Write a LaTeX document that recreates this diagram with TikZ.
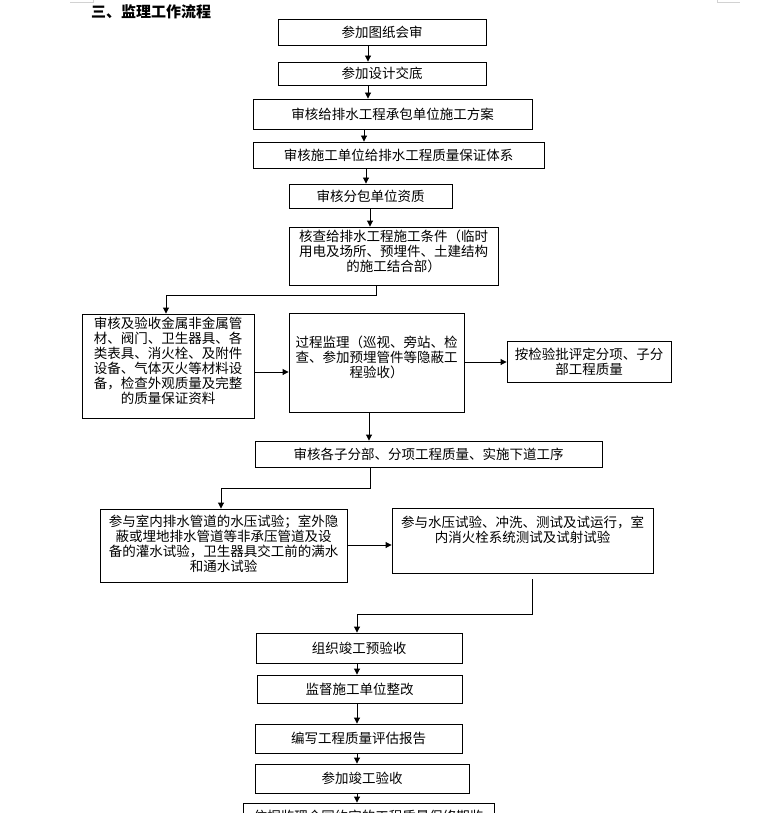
\documentclass[tikz,border=0pt]{standalone}
\usepackage{fontspec}
\setmainfont{Noto Sans CJK SC}
\usetikzlibrary{arrows.meta,calc}
\tikzset{
  box/.style={draw, line width=0.9pt, inner sep=2pt, align=center, font=\fontsize{13.5}{15}\selectfont},
  txt/.style={inner sep=0pt, align=center, font=\fontsize{13.5}{15}\selectfont},
  arr/.style={line width=0.9pt, -{Triangle[length=6pt,width=6pt]}},
  ln/.style={line width=0.9pt},
  cornermark/.style={draw=gray!35, line width=0.8pt}
}
\begin{document}
\begin{tikzpicture}[x=1pt,y=-1pt]
\useasboundingbox (0,0) rectangle (760,813);
\clip (0,0) rectangle (760,813);
% corner marks
\draw[cornermark] (70,2) -- (93,2) -- (93,0);
\draw[cornermark] (717,0) -- (717,2) -- (740,2);
% title
\node[anchor=west, inner sep=0pt, font=\fontsize{15}{17}\selectfont\bfseries] (title) at (91,12) {三、监理工作流程};
% boxes
\node[box, minimum width=208pt, minimum height=26pt] (B1) at (382,32) {参加图纸会审};
\node[box, minimum width=208pt, minimum height=23pt] (B2) at (382,73.5) {参加设计交底};
\node[box, minimum width=279pt, minimum height=30pt] (B3) at (392.5,114) {审核给排水工程承包单位施工方案};
\node[box, minimum width=291pt, minimum height=26pt] (B4) at (398.5,155) {审核施工单位给排水工程质量保证体系};
\node[box, minimum width=163pt, minimum height=24pt] (B5) at (370.5,196) {审核分包单位资质};
\node[box, minimum width=209pt, minimum height=58pt] (B6) at (393.5,256) {};
\node[txt] (T6) at (393.5,251) {核查给排水工程施工条件（临时\\用电及场所、预埋件、土建结构\\的施工结合部）};
\node[box, minimum width=172pt, minimum height=104pt] (B7) at (168,366) {};
\node[txt] (T7) at (168,360.5) {审核及验收金属非金属管\\材、阀门、卫生器具、各\\类表具、消火栓、及附件\\设备、气体灭火等材料设\\备，检查外观质量及完整\\的质量保证资料};
\node[box, minimum width=175pt, minimum height=99pt] (B8) at (376.5,362.5) {};
\node[txt] (T8) at (376.5,357.5) {过程监理（巡视、旁站、检\\查、参加预埋管件等隐蔽工\\程验收）};
\node[box, minimum width=164pt, minimum height=41pt] (B9) at (589,361.5) {按检验批评定分项、子分\\部工程质量};
\node[box, minimum width=347pt, minimum height=26pt] (B10) at (428.5,454) {审核各子分部、分项工程质量、实施下道工序};
\node[box, minimum width=247pt, minimum height=73pt] (B11) at (223.5,545.5) {};
\node[txt] (T11) at (223.5,543.5) {参与室内排水管道的水压试验；室外隐\\蔽或埋地排水管道等非承压管道及设\\备的灌水试验，卫生器具交工前的满水\\和通水试验};
\node[box, minimum width=261pt, minimum height=65pt] (B12) at (522.5,540.5) {};
\node[txt] (T12) at (522.5,529.5) {参与水压试验、冲洗、测试及试运行，室\\内消火栓系统测试及试射试验};
\node[box, minimum width=206pt, minimum height=30pt] (B13) at (359,648) {组织竣工预验收};
\node[box, minimum width=205pt, minimum height=28pt] (B14) at (359.5,689) {监督施工单位整改};
\node[box, minimum width=207pt, minimum height=29pt] (B15) at (358.5,738.5) {编写工程质量评估报告};
\node[box, minimum width=214pt, minimum height=29pt] (B16) at (362,778.5) {参加竣工验收};
\node[box, minimum width=251pt, minimum height=26pt] (B17) at (368.5,816) {依据监理合同约定的工程质量保修期监};
% helper coordinates
\coordinate (xa) at (368,0);
\coordinate (xb) at (364,0);
\coordinate (xc) at (366,0);
\coordinate (xd) at (370,0);
\coordinate (xe) at (376,0);
\coordinate (xf) at (166,0);
\coordinate (ya) at (0,295);
\coordinate (yb) at (0,372);
\coordinate (yc) at (0,362);
\coordinate (xg) at (369,0);
\coordinate (yd) at (0,488);
\coordinate (xh) at (221,0);
\coordinate (ye) at (0,545);
\coordinate (xi) at (532,0);
\coordinate (yf) at (0,579);
\coordinate (yg) at (0,614);
\coordinate (xj) at (357,0);
% connectors
\draw[arr] (B1.south -| xa) -- (B2.north -| xa);
\draw[arr] (B2.south -| xa) -- (B3.north -| xa);
\draw[arr] (B3.south -| xb) -- (B4.north -| xb);
\draw[arr] (B4.south -| xc) -- (B5.north -| xc);
\draw[arr] (B5.south -| xd) -- (B6.north -| xd);
\draw[arr] (B6.south -| xe) -- (xe |- ya) -- (xf |- ya) -- (B7.north -| xf);
\draw[arr] (B7.east |- yb) -- (B8.west |- yb);
\draw[arr] (B8.east |- yc) -- (B9.west |- yc);
\draw[arr] (B8.south -| xg) -- (B10.north -| xg);
\draw[arr] (B10.south -| xd) -- (xd |- yd) -- (xh |- yd) -- (B11.north -| xh);
\draw[arr] (B11.east |- ye) -- (B12.west |- ye);
\draw[arr] (xi |- yf) -- (xi |- yg) -- (xj |- yg) -- (B13.north -| xj);
\draw[arr] (B13.south -| xj) -- (B14.north -| xj);
\draw[arr] (B14.south -| xj) -- (B15.north -| xj);
\draw[arr] (B15.south -| xj) -- (B16.north -| xj);
\draw[arr] (B16.south -| xj) -- (B17.north -| xj);
\end{tikzpicture}
\end{document}
